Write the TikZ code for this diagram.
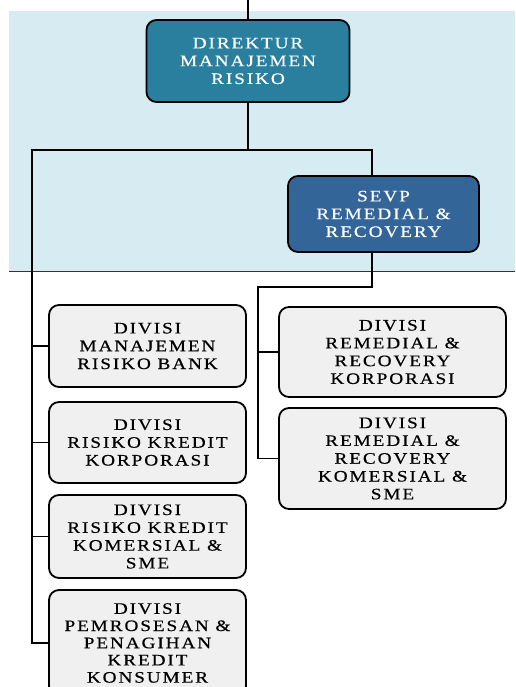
\documentclass[tikz,border=0pt]{standalone}
\usepackage{fontspec}
\newfontfamily\orgfont[LetterSpace=12,FakeStretch=1.2,FakeBold=0.5]{Liberation Serif}
\definecolor{bgblue}{RGB}{215,235,243}
\definecolor{dirteal}{RGB}{41,127,157}
\definecolor{sevpblue}{RGB}{52,101,153}
\definecolor{divgray}{RGB}{240,240,240}
\tikzset{
  orgbox/.style={draw=black, line width=1.8pt, rounded corners=10pt, align=center,
    font=\orgfont\fontsize{16}{17.8}\selectfont, inner sep=2pt},
  dirbox/.style={orgbox, fill=dirteal, text=white},
  sevpbox/.style={orgbox, fill=sevpblue, text=white},
  divbox/.style={orgbox, fill=divgray, text=black},
  orgline/.style={line width=1.8pt, black}
}
\begin{document}
\begin{tikzpicture}[x=1pt, y=-1pt]
  \useasboundingbox (0,0) rectangle (515,687);

  %Fondo
  \fill[bgblue] (9,11) rectangle (515,271);
  \draw[line width=1pt, black!80] (9,271) -- (515,271);

  %Cajas de arriba
  \node[dirbox, minimum width=203pt, minimum height=82pt] (dir) at (248,61)
    {DIREKTUR\\MANAJEMEN\\RISIKO};
  \node[sevpbox, minimum width=191pt, minimum height=76pt] (sevp) at (383.5,214)
    {SEVP\\REMEDIAL \&\\RECOVERY};

  %Divisi izq
  \node[divbox, minimum width=197pt, minimum height=82pt] (div1) at (147.5,346)
    {DIVISI\\MANAJEMEN\\RISIKO BANK};
  \node[divbox, minimum width=197pt, minimum height=81pt] (div2) at (147.5,442.5)
    {DIVISI\\RISIKO KREDIT\\KORPORASI};
  \node[divbox, minimum width=197pt, minimum height=83pt] (div3) at (147.5,536.5)
    {DIVISI\\RISIKO KREDIT\\KOMERSIAL \&\\SME};
  \node[divbox, minimum width=197pt, minimum height=106pt,
    font=\orgfont\fontsize{16}{17.2}\selectfont] (div4) at (147.5,643)
    {DIVISI\\PEMROSESAN \&\\PENAGIHAN\\KREDIT\\KONSUMER};

  %Divisi der
  \node[divbox, minimum width=227pt, minimum height=90pt] (div5) at (392.5,352)
    {DIVISI\\REMEDIAL \&\\RECOVERY\\KORPORASI};
  \node[divbox, minimum width=227pt, minimum height=101pt] (div6) at (392.5,458.5)
    {DIVISI\\REMEDIAL \&\\RECOVERY\\KOMERSIAL \&\\SME};

  \coordinate (topin) at (248,0);
  \coordinate (lbar) at (32,150);
  \coordinate (rbar) at (372,150);
  \coordinate (rjog) at (372,287);
  \coordinate (rtop) at (258,287);

  %Lineas arriba
  \draw[orgline] (topin) -- (dir.north);
  \draw[orgline] (dir.south) -- (dir.south |- lbar);
  \draw[orgline] (rbar |- sevp.north) -- (rbar) -- (lbar) |- (div4.west);

  %Lineas izq
  \draw[orgline] (lbar |- div1.west) -- (div1.west);
  \draw[orgline] (lbar |- div2.west) -- (div2.west);
  \draw[orgline] (lbar |- div3.west) -- (div3.west);

  %Lineas der
  \draw[orgline] (rbar |- sevp.south) -- (rjog) -- (rtop) |- (div6.west);
  \draw[orgline] (rtop |- div5.west) -- (div5.west);
\end{tikzpicture}
\end{document}
